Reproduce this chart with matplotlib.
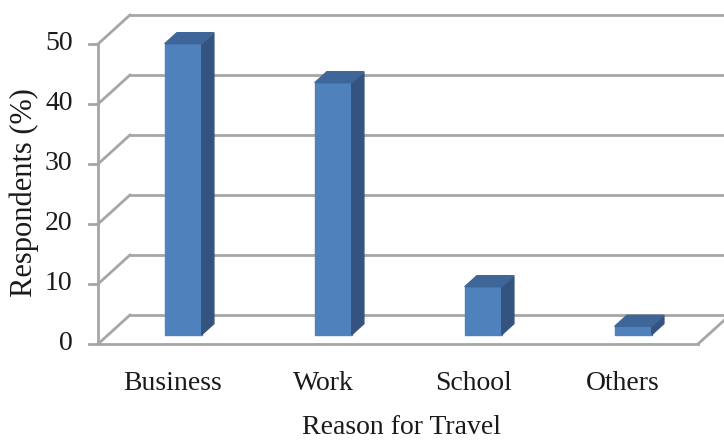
import matplotlib
matplotlib.use('Agg')

import numpy as np
import matplotlib.pyplot as plt

# data
categories = ['Business', 'Work', 'School', 'Others']
respondents = [48.5, 42.0, 8.0, 1.4]
yticks = [0, 10, 20, 30, 40, 50]

plt.rcParams['font.family'] = ['Liberation Serif', 'DejaVu Serif']

fig = plt.figure(figsize=(7.24, 4.41), dpi=100)
ax = fig.add_axes([0, 0, 1, 1])
# x: category units (axis at 0), y: value units on the front plane
ax.set_xlim(-98 / 150, (724 - 98) / 150)
ax.set_ylim((344 - 441) / 6, 344 / 6)
ax.axis('off')

# full depth of the 3d box, in data units
ddx, ddy = 32 / 150, 29 / 6
n = len(categories)
grid_c = '#a6a6a6'
txt_c = '#1a1a1a'

# back wall gridlines and side wall diagonals
for v in yticks:
    ax.plot([ddx, n + ddx + 0.5], [v + ddy, v + ddy], color=grid_c, lw=2, zorder=1)
    ax.plot([0, ddx], [v, v + ddy], color=grid_c, lw=2, zorder=1)
    ax.plot([-0.06, 0], [v, v], color=grid_c, lw=2, zorder=1)

# front axis and floor
ax.plot([0, 0], [0, yticks[-1]], color=grid_c, lw=2, zorder=1)
ax.plot([0, n], [0, 0], color=grid_c, lw=2, zorder=1)
ax.plot([n, n + ddx], [0, ddy], color=grid_c, lw=2, zorder=1)

# tick labels
for v in yticks:
    ax.text(-0.17, v, str(v), ha='right', va='center', fontsize=20, color=txt_c)

# bars: front face at 1/3 of the depth, bar depth ~0.38 of the box
f0, f1 = 0.32, 0.70
bw = 37 / 150
ox, oy = (f1 - f0) * ddx, (f1 - f0) * ddy
for i, val in enumerate(respondents):
    x0 = i + 0.5 - bw / 2 + f0 * ddx
    x1 = x0 + bw
    y0 = f0 * ddy
    top = y0 + val
    ax.fill([x0, x1, x1, x0], [y0, y0, top, top], color='#4f81bd', zorder=3)
    ax.fill([x1, x1 + ox, x1 + ox, x1], [y0, y0 + oy, top + oy, top],
            color='#34547f', zorder=3)
    ax.fill([x0, x1, x1 + ox, x0 + ox], [top, top, top + oy, top + oy],
            color='#3e6699', zorder=3)
    ax.text(i + 0.5, -6.6, categories[i], ha='center', va='center',
            fontsize=20, color=txt_c)

ax.text(n / 2 + 0.02, -14.0, 'Reason for Travel', ha='center', va='center',
        fontsize=20, color=txt_c)
ax.text(-0.49, 25.2, 'Respondents (%)', ha='center', va='center', rotation=90,
        fontsize=22, color=txt_c)

fig.savefig('out.png', dpi=100)
